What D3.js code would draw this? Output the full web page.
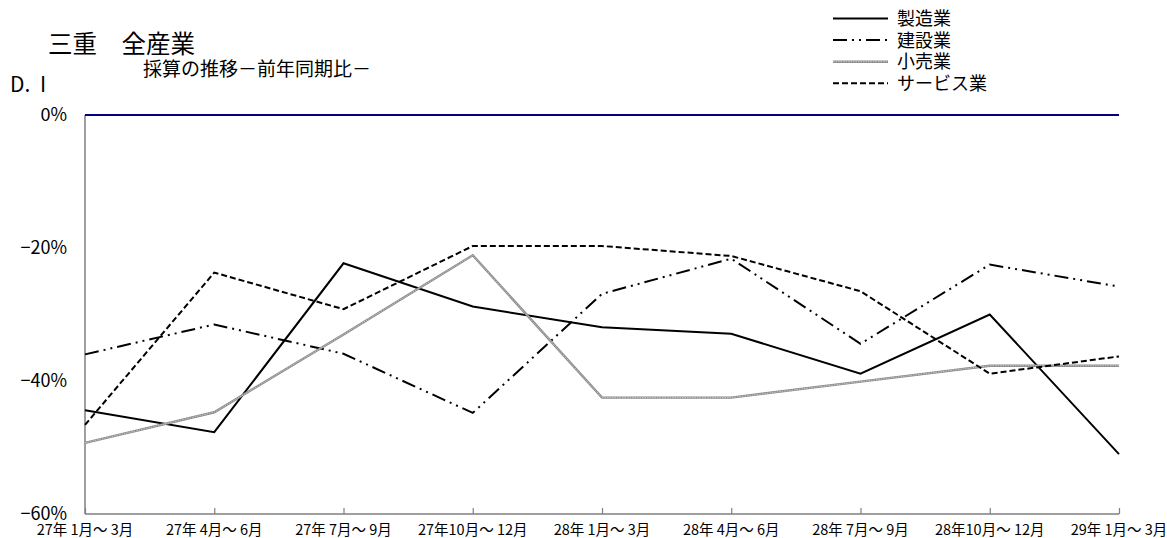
<!DOCTYPE html>
<html><head><meta charset="utf-8">
<script src="https://cdn.jsdelivr.net/npm/d3@7"></script>
<style>
html,body{margin:0;padding:0;background:#fff;}
svg{display:block;font-family:"Noto Sans CJK JP","Noto Sans",sans-serif;}
</style></head>
<body><svg id="c" width="1167" height="538"></svg>
<script>
const categories = ["27年 1月～ 3月","27年 4月～ 6月","27年 7月～ 9月","27年10月～ 12月","28年 1月～ 3月","28年 4月～ 6月","28年 7月～ 9月","28年10月～ 12月","29年 1月～ 3月"];
const seriesNames = ["製造業","建設業","小売業","サービス業"];
const manufacturing = [-44.4,-47.7,-22.3,-28.8,-31.9,-32.9,-38.9,-30.0,-51.0];
const construction  = [-36.0,-31.5,-35.9,-44.8,-26.9,-21.6,-34.4,-22.5,-25.8];
const retail        = [-49.3,-44.7,-33.0,-21.1,-42.5,-42.5,-40.1,-37.7,-37.7];
const services      = [-46.6,-23.7,-29.2,-19.7,-19.7,-21.2,-26.5,-38.9,-36.3];
const yTicks = [0,-20,-40,-60];

const svg = d3.select("#c");
const L=85, R=1119, T=115, B=514;
const x = d3.scalePoint().domain(categories).range([L,R]);
const y = d3.scaleLinear().domain([-60,0]).range([B,T]);

// titles
svg.append("text").attr("x",48).attr("y",53).attr("font-size",24.5).text("三重　全産業");
svg.append("text").attr("x",143).attr("y",76).attr("font-size",19).text("採算の推移－前年同期比－");
svg.append("text").attr("x",10).attr("y",92).attr("font-size",21).attr("word-spacing",5).text("D. I");

// y labels
svg.append("g").selectAll("text").data(yTicks).join("text")
  .attr("x",67).attr("y",d=>y(d)).attr("dy","0.36em").attr("text-anchor","end")
  .attr("font-size",18).text(d=>(d<0?"−":"")+Math.abs(d)+"%");

// x axis
const xAxis = d3.axisBottom(x).tickSize(-6).tickFormat("");
const gx = svg.append("g").attr("transform",`translate(0,${B})`).call(xAxis);
gx.select(".domain").attr("stroke","#7f7f7f").attr("stroke-width",1.5).attr("d",`M${L},0H${R}`);
gx.selectAll(".tick line").attr("stroke","#7f7f7f").attr("stroke-width",1.2);
svg.append("g").selectAll("text").data(categories).join("text")
  .attr("x",d=>x(d)).attr("y",535).attr("text-anchor","middle").attr("font-size",14.5)
  .style("white-space","pre").text(d=>d);

// y axis line
svg.append("line").attr("x1",L).attr("x2",L).attr("y1",y(0)).attr("y2",B)
  .attr("stroke","#7f7f7f").attr("stroke-width",1.5);
// 0% line
svg.append("line").attr("x1",L).attr("x2",R).attr("y1",y(0)).attr("y2",y(0))
  .attr("stroke","#000080").attr("stroke-width",2);

const line = d3.line().x((d,i)=>x(categories[i])).y(d=>y(d));
const styles = [
  {data:manufacturing, strokes:[{c:"#000",w:2,da:null}]},
  {data:construction, strokes:[{c:"#000",w:2,da:"14,5,2,5,2,5"}]},
  {data:retail, strokes:[{c:"#8a8a8a",w:2.4,da:null},{c:"#d8d8d8",w:0.8,da:"1.5,1"}]},
  {data:services, strokes:[{c:"#000",w:2,da:"6,3"}]}
];
styles.forEach(s=>{
  s.strokes.forEach(st=>{
    svg.append("path").datum(s.data).attr("d",line).attr("fill","none")
      .attr("stroke",st.c).attr("stroke-width",st.w).attr("stroke-dasharray",st.da)
      .attr("stroke-linejoin","miter");
  });
});

// legend
const lg = svg.append("g");
seriesNames.forEach((n,i)=>{
  const yy = 18.5 + i*21.6;
  styles[i].strokes.forEach(st=>{
    lg.append("line").attr("x1",833).attr("x2",888).attr("y1",yy).attr("y2",yy)
      .attr("stroke",st.c).attr("stroke-width",st.w).attr("stroke-dasharray",st.da);
  });
  lg.append("text").attr("x",897).attr("y",yy).attr("dy","0.36em").attr("font-size",18).text(n);
});
</script></body></html>
